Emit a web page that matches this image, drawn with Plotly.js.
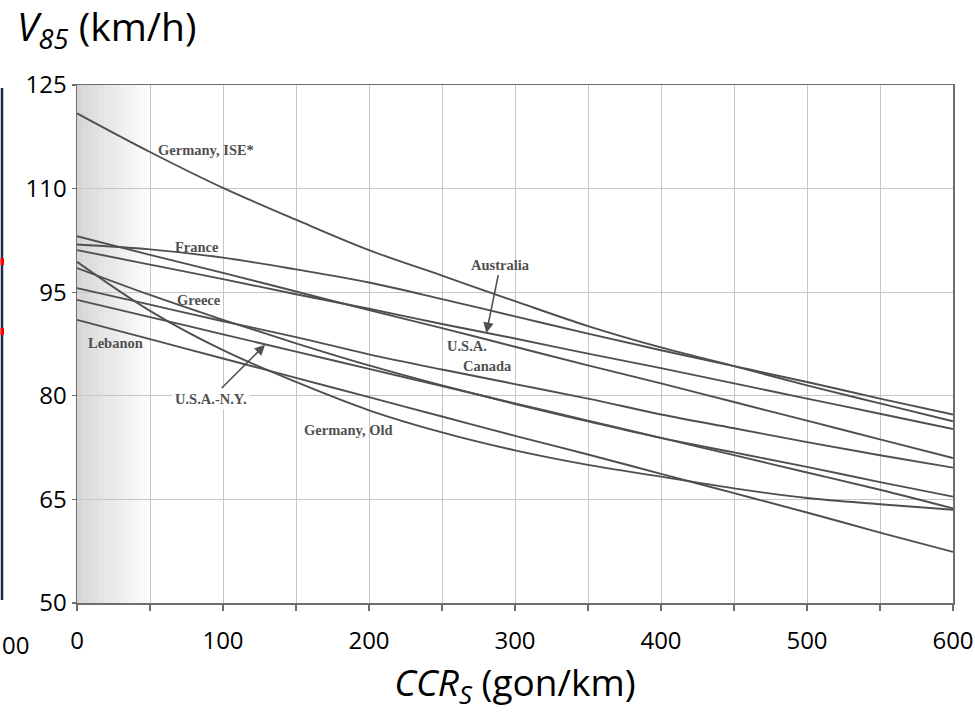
<!DOCTYPE html>
<html><head><meta charset="utf-8">
<script src="https://cdn.plot.ly/plotly-3.0.1.min.js"></script>
<style>html,body{margin:0;padding:0;background:#fff;} #chart{width:975px;height:712px;}</style>
</head><body><div id="chart"></div>
<script>
const ccr = [0, 50, 100, 150, 200, 250, 300, 350, 400, 450, 500, 550, 600];

// V85 (km/h) for each country model
const germanyISE = [120.9, 115.3, 110.1, 105.5, 101.1, 97.4, 93.7, 90.1, 87.0, 84.3, 81.5, 78.9, 76.3];
const france     = [101.9, 101.2, 100.0, 98.3, 96.4, 94.0, 91.5, 89.0, 86.6, 84.3, 82.0, 79.6, 77.3];
const australia  = [101.1, 99.0, 96.9, 94.7, 92.6, 90.4, 88.3, 86.1, 84.0, 81.8, 79.6, 77.4, 75.2];
const usa        = [103.1, 100.4, 97.8, 95.1, 92.4, 89.8, 87.1, 84.4, 81.8, 79.1, 76.4, 73.7, 71.0];
const canada     = [95.6, 93.2, 90.8, 88.5, 86.0, 83.8, 81.7, 79.6, 77.3, 75.3, 73.3, 71.4, 69.6];
const greece     = [98.5, 94.6, 91.0, 87.6, 84.4, 81.5, 78.8, 76.3, 73.9, 71.8, 69.7, 67.5, 65.4];
const germanyOld = [99.4, 92.3, 86.6, 82.0, 77.9, 74.7, 72.1, 70.0, 68.3, 66.6, 65.2, 64.3, 63.5];
const usaNY      = [93.9, 91.4, 88.9, 86.4, 83.9, 81.4, 78.9, 76.4, 73.9, 71.4, 68.9, 66.4, 63.7];
const lebanon    = [91.0, 88.2, 85.4, 82.6, 79.8, 77.0, 74.2, 71.5, 68.7, 65.9, 63.1, 60.2, 57.4];

const seriesNames = ['Germany, ISE*', 'France', 'Australia', 'U.S.A.', 'Canada', 'Greece', 'Germany, Old', 'U.S.A.-N.Y.', 'Lebanon'];
const seriesValues = [germanyISE, france, australia, usa, canada, greece, germanyOld, usaNY, lebanon];

// axis ticks
const xTickVals = [0, 100, 200, 300, 400, 500, 600];
const xTickText = ['0', '100', '200', '300', '400', '500', '600'];
const yTickVals = [50, 65, 80, 95, 110, 125];
const yTickText = ['50', '65', '80', '95', '110', '125'];

// in-plot curve labels without pointer (data coordinates of their left/middle point)
const labelText = ['Germany, ISE*', 'France', 'U.S.A.', 'Canada', 'Greece', 'Lebanon', 'Germany, Old'];
const labelX    = [54, 66, 252, 263, 67, 6, 154];
const labelY    = [115.6, 101.6, 87.2, 84.3, 93.9, 87.6, 75.1];

// labels with pointer arrows: label centre -> arrow head
const arrowLabel = ['U.S.A.-N.Y.', 'Australia'];
const arrowLabelX = [92, 290];
const arrowLabelY = [79.6, 99.0];
const arrowHeadX = [128.8, 280.4];
const arrowHeadY = [87.4, 89.1];

const lineColor = '#4f4f4f';
const traces = seriesNames.map((name, i) => ({
  type: 'scatter', mode: 'lines', name: name,
  x: ccr, y: seriesValues[i],
  line: {color: lineColor, width: 1.9, shape: 'spline', smoothing: 1},
  hoverinfo: 'name+x+y'
}));

// scanned-page gutter shading near the left edge
const shapes = [];
const nStrips = 14;
for (let i = 0; i < nStrips; i++) {
  const t = i / (nStrips - 1);
  const g = Math.round(214 + (253 - 214) * Math.pow(t, 0.9));
  shapes.push({type: 'rect', layer: 'below', xref: 'x', yref: 'y',
    x0: i * 52 / nStrips, x1: (i + 1) * 52 / nStrips + 0.3, y0: 50, y1: 125,
    line: {width: 0}, fillcolor: `rgb(${g},${g},${g})`});
}
// fragment of the neighbouring panel at the far left
const W = 975 - 77 - 22, H = 712 - 85 - 109;
const px2x = p => (p - 77) / W;
const py2y = p => (603 - p) / H;
shapes.push({type: 'line', xref: 'paper', yref: 'paper', x0: px2x(2), x1: px2x(2), y0: py2y(88), y1: py2y(600),
  line: {color: '#1d2a47', width: 2.5}});
shapes.push({type: 'rect', xref: 'paper', yref: 'paper', x0: px2x(0.5), x1: px2x(4), y0: py2y(258), y1: py2y(265),
  line: {width: 0}, fillcolor: '#ff0000'});
shapes.push({type: 'rect', xref: 'paper', yref: 'paper', x0: px2x(0.5), x1: px2x(4), y0: py2y(328), y1: py2y(335),
  line: {width: 0}, fillcolor: '#ff0000'});

const labelFont = {family: 'Liberation Serif, Times New Roman, serif', size: 14.5, color: '#505050', weight: 'bold'};
const annotations = labelText.map((t, i) => ({
  text: t, x: labelX[i], y: labelY[i], xref: 'x', yref: 'y',
  xanchor: 'left', yanchor: 'middle', showarrow: false, font: labelFont
}));
for (let i = 0; i < arrowLabel.length; i++) {
  annotations.push({text: arrowLabel[i], x: arrowHeadX[i], y: arrowHeadY[i], ax: arrowLabelX[i], ay: arrowLabelY[i],
    xref: 'x', yref: 'y', axref: 'x', ayref: 'y', showarrow: true, font: labelFont,
    bgcolor: arrowLabel[i] === 'U.S.A.-N.Y.' ? '#ffffff' : 'rgba(0,0,0,0)', borderpad: 2,
    arrowhead: 2, arrowsize: 1.3, arrowwidth: 1.6, arrowcolor: '#505050', standoff: 0, startstandoff: 0});
}
// cut-off tick label of the neighbouring panel
annotations.push({text: '00', xref: 'paper', yref: 'paper', x: px2x(0), y: py2y(644),
  xanchor: 'left', yanchor: 'middle', showarrow: false, font: {size: 24, color: '#000'}});

const axisFont = {family: 'Open Sans, sans-serif', size: 24, color: '#000'};
const gridColor = '#c6c6c6';
const layout = {
  width: 975, height: 712,
  margin: {l: 77, r: 22, t: 85, b: 109, pad: 0},
  paper_bgcolor: '#ffffff', plot_bgcolor: '#ffffff',
  showlegend: false,
  font: {family: 'Open Sans, sans-serif', color: '#000'},
  title: {text: '<i>V</i><sub><i>85</i></sub> (km/h)', font: {size: 39, color: '#000', family: 'Open Sans, sans-serif'},
    x: 17 / 975, xref: 'container', xanchor: 'left', y: 1 - 14 / 712, yref: 'container', yanchor: 'top'},
  xaxis: {
    range: [0, 600], tickmode: 'array', tickvals: xTickVals, ticktext: xTickText,
    showgrid: true, gridcolor: gridColor, gridwidth: 1, zeroline: false,
    showline: true, linecolor: '#6e6e6e', linewidth: 1.5, mirror: true,
    ticks: 'outside', ticklen: 6, tickcolor: '#6e6e6e', tickwidth: 1.2,
    minor: {dtick: 50, tick0: 0, ticks: 'outside', ticklen: 6, tickcolor: '#6e6e6e', tickwidth: 1.2,
      showgrid: true, gridcolor: gridColor, gridwidth: 1},
    tickfont: axisFont, ticklabelstandoff: 10,
    title: {text: '<i>CCR</i><sub><i>S</i></sub> (gon/km)', font: {size: 37, color: '#000'}, standoff: 30}
  },
  yaxis: {
    range: [50, 125], tickmode: 'array', tickvals: yTickVals, ticktext: yTickText,
    showgrid: true, gridcolor: gridColor, gridwidth: 1, zeroline: false,
    showline: true, linecolor: '#6e6e6e', linewidth: 1.5, mirror: true,
    ticks: 'outside', ticklen: 4, tickcolor: '#6e6e6e', tickwidth: 1.2,
    tickfont: axisFont, ticklabelstandoff: 0
  },
  shapes: shapes,
  annotations: annotations
};
Plotly.newPlot('chart', traces, layout, {displayModeBar: false, staticPlot: true});
</script>
</body></html>
